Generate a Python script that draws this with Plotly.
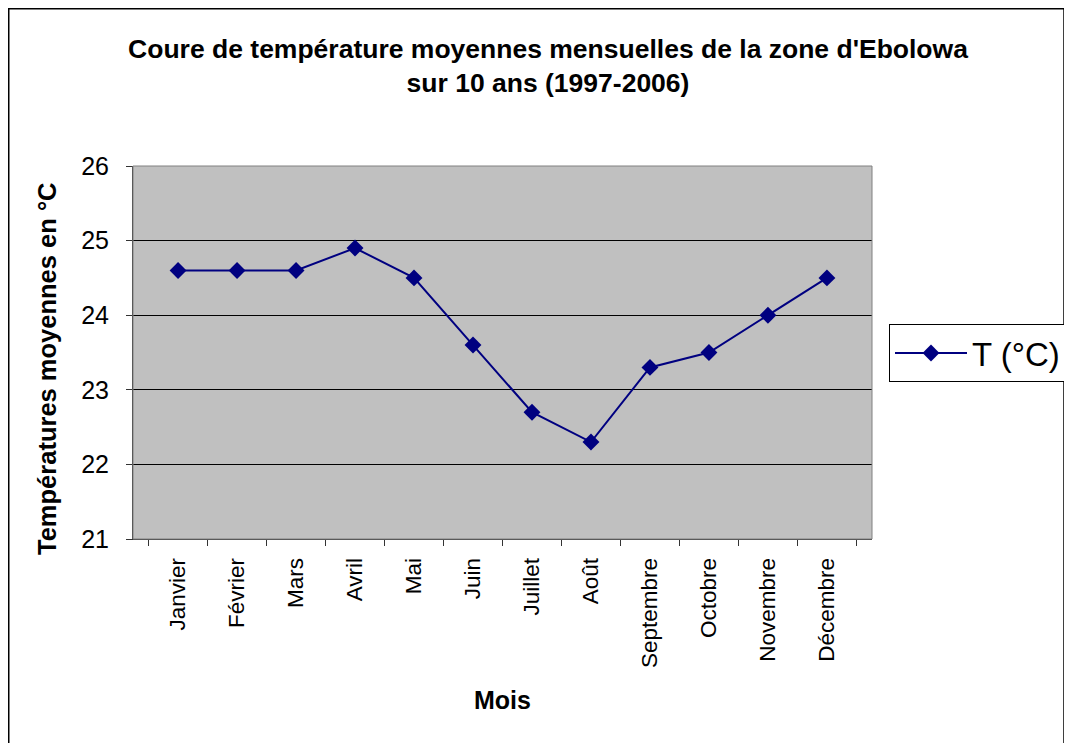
import plotly.graph_objects as go

mois = ["Janvier", "Février", "Mars", "Avril", "Mai", "Juin", "Juillet",
        "Août", "Septembre", "Octobre", "Novembre", "Décembre"]
temperatures = [24.6, 24.6, 24.6, 24.9, 24.5, 23.6, 22.7, 22.3, 23.3, 23.5, 24.0, 24.5]
y_ticks = [21, 22, 23, 24, 25, 26]

# figure is placed at page offset (8, 8) by the default body margin
W, H = 1064, 735
L, R, T, B = 125, 200, 158, 204

fig = go.Figure()
fig.add_trace(go.Scatter(
    x=mois, y=temperatures, mode="lines+markers", name="T (°C)",
    line=dict(color="#000080", width=2),
    marker=dict(symbol="diamond", size=13, color="#000080"),
))

pw, ph = W - L - R, H - T - B
def px(x):
    return (x - L) / pw
def py(y):
    return (H - B - y) / ph

fig.update_layout(
    width=W, height=H,
    margin=dict(l=L, r=R, t=T, b=B, autoexpand=False),
    paper_bgcolor="white", plot_bgcolor="#C0C0C0",
    font=dict(family="Liberation Sans, Arial, sans-serif", color="black"),
    title=dict(
        text="<b>Coure de température moyennes mensuelles de la zone d'Ebolowa<br>sur 10 ans (1997-2006)</b>",
        x=540 / W, xanchor="center", y=1 - 50 / H, yanchor="middle",
        font=dict(size=26.5),
    ),
    showlegend=True,
    legend=dict(
        x=px(881), y=py(316), xanchor="left", yanchor="top",
        bordercolor="black", borderwidth=1, bgcolor="white",
        font=dict(size=33), itemwidth=72,
    ),
    xaxis=dict(
        type="category", tickson="boundaries", ticks="outside", ticklen=6,
        tickcolor="#333", showline=True, linecolor="#333", linewidth=1,
        tickangle=-90, tickfont=dict(size=22.5), showgrid=False,
        ticklabelstandoff=9,
        title=dict(text="<b>Mois</b>", font=dict(size=25), standoff=24),
    ),
    yaxis=dict(
        range=[21, 26], tickvals=y_ticks, ticks="outside", ticklen=6,
        tickcolor="#333", showline=True, linecolor="#333", linewidth=1,
        tickfont=dict(size=25), showgrid=True, gridcolor="black", gridwidth=1,
        zeroline=False, ticklabelstandoff=12,
    ),
    annotations=[
        dict(text="<b>Températures moyennes en °C</b>", xref="paper", yref="paper",
             x=px(39), y=py(361), xanchor="center", yanchor="middle",
             textangle=-90, showarrow=False, font=dict(size=25.5)),
    ],
    shapes=[
        dict(type="rect", xref="paper", yref="paper",
             x0=px(0.75), x1=px(1056), y0=py(760), y1=py(0.75),
             line=dict(color="black", width=1.5), fillcolor="rgba(0,0,0,0)", layer="below"),
        dict(type="rect", xref="paper", yref="paper",
             x0=0, x1=1, y0=0, y1=1,
             line=dict(color="#808080", width=1), fillcolor="rgba(0,0,0,0)", layer="above"),
    ],
)

fig.write_html("out.html")
